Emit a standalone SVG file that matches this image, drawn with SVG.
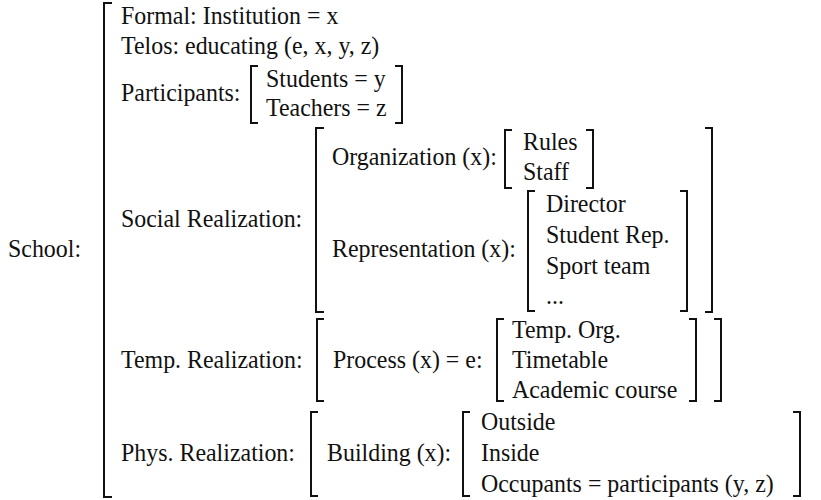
<svg xmlns="http://www.w3.org/2000/svg" width="821" height="500" viewBox="0 0 821 500">
<style>
.t{font-family:"Liberation Serif","Times New Roman",serif;font-size:26px;fill:#111;transform-box:fill-box;transform-origin:left center;transform:scaleX(0.92)}
.b{fill:none;stroke:#111;stroke-width:2}
</style>
<rect width="821" height="500" fill="#fff"/>
<g id="school">
<text class="t" x="8" y="257">School:</text>
<path class="b" d="M112 3H104V497H112"/>
</g>
<g id="formal"><text class="t" x="121" y="24">Formal: Institution = x</text></g>
<g id="telos"><text class="t" x="121" y="54">Telos: educating (e, x, y, z)</text></g>
<g id="participants">
<text class="t" x="121" y="101">Participants:</text>
<path class="b" d="M258 66H251V123H258"/>
<text class="t" x="266" y="87">Students = y</text>
<text class="t" x="266" y="116">Teachers = z</text>
<path class="b" d="M395 66H402V123H395"/>
</g>
<g id="social">
<text class="t" x="121" y="227">Social Realization:</text>
<path class="b" d="M324 128H316V312H324"/>
<path class="b" d="M705 128H712V312H705"/>
<g id="organization">
<text class="t" x="332" y="165">Organization (x):</text>
<path class="b" d="M512 130H505V188H512"/>
<text class="t" x="523" y="150">Rules</text>
<text class="t" x="523" y="180">Staff</text>
<path class="b" d="M586 130H593V188H586"/>
</g>
<g id="representation">
<text class="t" x="332" y="257">Representation (x):</text>
<path class="b" d="M535 191H528V311H535"/>
<text class="t" x="546" y="212">Director</text>
<text class="t" x="546" y="243">Student Rep.</text>
<text class="t" x="546" y="274">Sport team</text>
<text class="t" x="546" y="304">...</text>
<path class="b" d="M680 191H687V311H680"/>
</g>
</g>
<g id="temp">
<text class="t" x="121" y="368">Temp. Realization:</text>
<path class="b" d="M324 319H317V401H324"/>
<text class="t" x="333" y="368">Process (x) = e:</text>
<path class="b" d="M504 319H497V401H504"/>
<text class="t" x="512" y="338">Temp. Org.</text>
<text class="t" x="512" y="368">Timetable</text>
<text class="t" x="512" y="398">Academic course</text>
<path class="b" d="M689 319H696V401H689"/>
<path class="b" d="M714 319H721V401H714"/>
</g>
<g id="phys">
<text class="t" x="121" y="461">Phys. Realization:</text>
<path class="b" d="M318 412H311V496H318"/>
<text class="t" x="327" y="461">Building (x):</text>
<path class="b" d="M470 412H463V496H470"/>
<text class="t" x="481" y="430">Outside</text>
<text class="t" x="481" y="461">Inside</text>
<text class="t" x="481" y="492">Occupants = participants (y, z)</text>
<path class="b" d="M793 412H800V496H793"/>
</g>
</svg>
